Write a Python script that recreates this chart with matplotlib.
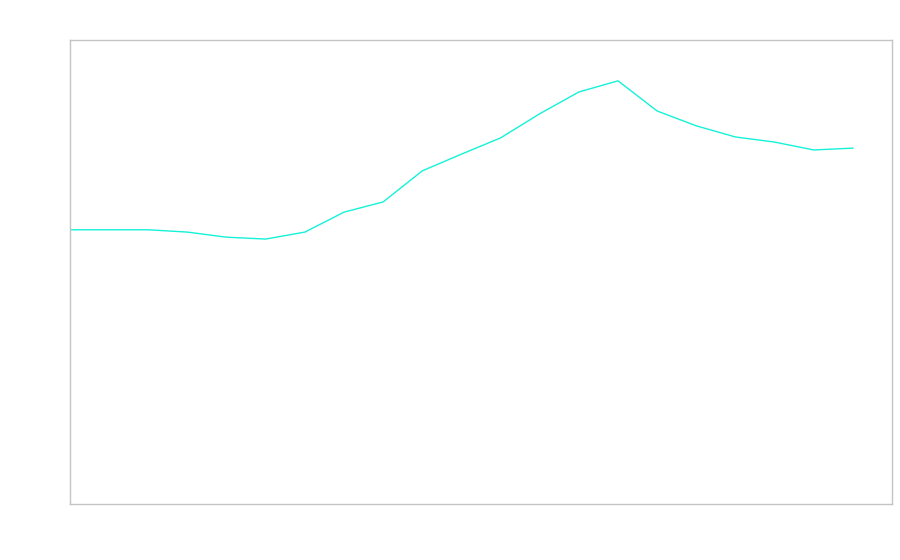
import numpy as np
import matplotlib
matplotlib.use("Agg")
from matplotlib import pyplot as plt

# values (no labels shown, scale 0-100)
steps = list(range(21))
values = [59.1, 59.1, 59.1, 58.6, 57.5, 57.1, 58.6, 62.9, 65.1, 71.8, 75.4,
          78.9, 84.1, 88.8, 91.2, 84.7, 81.5, 79.1, 78.0, 76.3, 76.7]

fig = plt.figure(figsize=(9, 5.6), dpi=100)
ax = fig.add_axes([70 / 900, 56 / 560, 822 / 900, 464 / 560])
ax.plot(steps, values, color="#14f2d8", linewidth=1)

ax.set_xlim(0, 21)
ax.set_ylim(0, 100)
ax.set_xticks([])
ax.set_yticks([])
for s in ax.spines.values():
    s.set_color("#c4c4c4")
    s.set_linewidth(1)

fig.savefig("out.png", dpi=100)
